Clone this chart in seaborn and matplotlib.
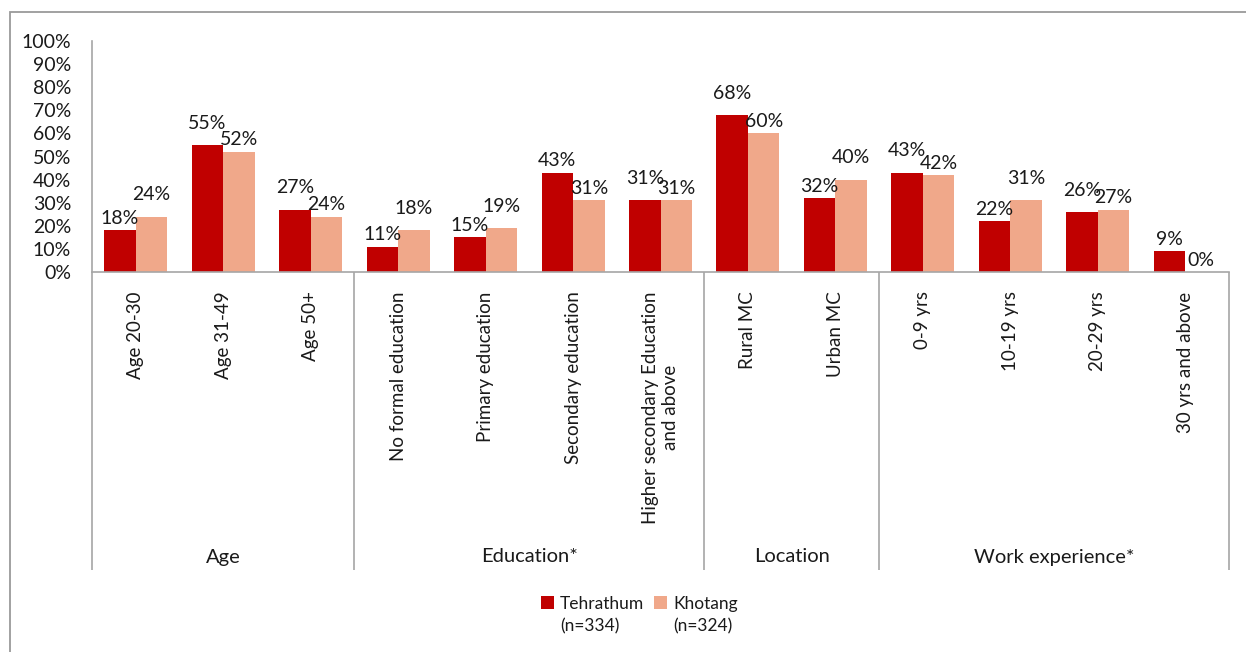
import matplotlib
matplotlib.use("Agg")
import matplotlib.pyplot as plt
import matplotlib.transforms as mtransforms
from matplotlib.patches import Rectangle
from matplotlib.legend_handler import HandlerPatch
import seaborn as sns
import pandas as pd

# ---- data -------------------------------------------------------------
categories = [
    "Age 20-30", "Age 31-49", "Age 50+",
    "No formal education", "Primary education", "Secondary education",
    "Higher secondary Education\nand above",
    "Rural MC", "Urban MC",
    "0-9 yrs", "10-19 yrs", "20-29 yrs", "30 yrs and above",
]
tehrathum = [18, 55, 27, 11, 15, 43, 31, 68, 32, 43, 22, 26, 9]
khotang = [24, 52, 24, 18, 19, 31, 31, 60, 40, 42, 31, 27, 0]
groups = ["Age", "Education*", "Location", "Work experience*"]
group_sizes = [3, 4, 2, 4]
series_names = ["Tehrathum", "Khotang"]
series_notes = ["(n=334)", "(n=324)"]
y_ticks = list(range(0, 101, 10))

# ---- style ------------------------------------------------------------
sns.set_theme(style="white")
plt.rcParams["font.family"] = ["Lato", "DejaVu Sans"]
TEXT = "#1a1a1a"
AXIS = "#a6a6a6"
RED = "#c00000"
PEACH = "#f0a88a"
FS = 14

df = pd.DataFrame({
    "category": categories * 2,
    "value": tehrathum + khotang,
    "district": [series_names[0]] * len(categories) + [series_names[1]] * len(categories),
})

W, H = 1246, 652
fig = plt.figure(figsize=(W / 100, H / 100), dpi=100)
ax = fig.add_axes([92 / W, 1 - 272 / H, (1229 - 92) / W, (272 - 41) / H])

sns.barplot(data=df, x="category", y="value", hue="district",
            order=categories, hue_order=series_names,
            palette=[RED, PEACH], width=0.72, gap=0, saturation=1,
            linewidth=0, legend=False, ax=ax)

ax.set_xlim(-0.5, len(categories) - 0.5)
ax.set_ylim(0, 100)
ax.set_yticks(y_ticks)
ax.set_yticklabels([f"{t}%" for t in y_ticks], fontsize=FS, color=TEXT)
ax.set_xticks(range(len(categories)))
ax.set_xticklabels(categories, rotation=90, fontsize=13.5, color=TEXT,
                   va="top", ha="center", multialignment="center")
ax.tick_params(axis="both", length=0)
ax.tick_params(axis="y", pad=15)
ax.tick_params(axis="x", pad=14)
ax.set_xlabel("")
ax.set_ylabel("")
for side in ["top", "right"]:
    ax.spines[side].set_visible(False)
for side in ["left", "bottom"]:
    ax.spines[side].set_color(AXIS)
    ax.spines[side].set_linewidth(1.2)

# value labels above each bar; when a pair of labels would collide,
# one of them is lifted so both stay readable
BASE, LIFT = 2.5, 9.5
for i in range(len(categories)):
    left, right = tehrathum[i], khotang[i]
    diff = right - left
    offsets = [BASE, BASE]
    if 3 <= diff <= 9:
        offsets[1] = LIFT
    elif -8 <= diff < 3:
        offsets[0] = LIFT
    for s, (cont, vals) in enumerate(zip(ax.containers, [tehrathum, khotang])):
        bar = cont.patches[i]
        v = vals[i]
        ax.annotate(f"{v}%", (bar.get_x() + bar.get_width() / 2, v),
                    xytext=(0, offsets[s]), textcoords="offset points",
                    ha="center", va="bottom", fontsize=FS, color=TEXT)

# group separators and group names below the category labels
blend = mtransforms.blended_transform_factory(ax.transData, fig.transFigure)
y_low = 1 - 570 / H
y_axis = 1 - 272 / H
edges = [-0.5]
for n in group_sizes:
    edges.append(edges[-1] + n)
for e in edges:
    ax.plot([e, e], [y_axis, y_low], transform=blend, color=AXIS,
            lw=1.2, clip_on=False, solid_capstyle="butt")
for g, a, b in zip(groups, edges[:-1], edges[1:]):
    ax.text((a + b) / 2, 1 - 557 / H, g, transform=blend, ha="center",
            va="center", fontsize=14.5, color=TEXT)


# legend with the swatch aligned to the first text line
class TopSquare(HandlerPatch):
    def create_artists(self, legend, orig_handle, xdescent, ydescent,
                       width, height, fontsize, trans):
        size = 0.75 * fontsize
        r = Rectangle((-xdescent, -ydescent + height / 2 + 0.75 * fontsize - size / 2),
                      size, size, facecolor=orig_handle.get_facecolor(),
                      edgecolor="none", transform=trans)
        return [r]


handles = [Rectangle((0, 0), 1, 1, facecolor=c) for c in [RED, PEACH]]
labels = [f"{n}\n{m}" for n, m in zip(series_names, series_notes)]
leg = fig.legend(handles, labels, loc="upper left",
                 bbox_to_anchor=(541 / W, 1 - 596 / H), ncol=2, frameon=False,
                 fontsize=12.5, handlelength=0.75, handletextpad=0.35,
                 columnspacing=0.55, borderaxespad=0, borderpad=0,
                 handler_map={Rectangle: TopSquare()})
for t in leg.get_texts():
    t.set_color(TEXT)
    t.set_linespacing(1.45)

# outer chart frame
fig.add_artist(Rectangle((10 / W, -0.05), 1.1, 1 - 11.5 / H + 0.05,
                         transform=fig.transFigure, fill=False,
                         edgecolor="#9a9a9a", lw=1.3, clip_on=False))

fig.savefig("out.png", dpi=100)
